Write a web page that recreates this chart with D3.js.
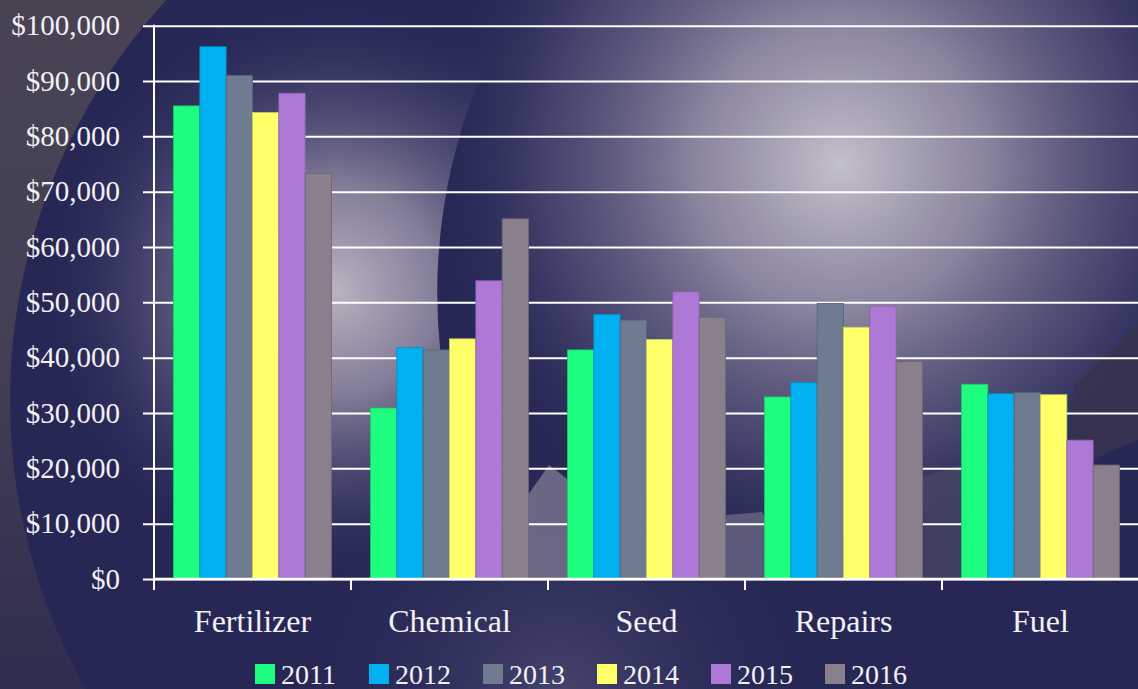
<!DOCTYPE html>
<html>
<head>
<meta charset="utf-8">
<script src="https://cdn.jsdelivr.net/npm/d3@7"></script>
<style>
  html, body { margin: 0; padding: 0; background: #262755; }
  svg { display: block; }
</style>
</head>
<body>
<div id="chart"></div>
<script>
// data
const categories = ['Fertilizer', 'Chemical', 'Seed', 'Repairs', 'Fuel'];
const years = ['2011', '2012', '2013', '2014', '2015', '2016'];
const colors = ['#1efd80', '#00b0f0', '#6e7b91', '#ffff6a', '#ad78d6', '#8a7f8c'];
const values2011 = [85500, 30900, 41400, 32900, 35200];
const values2012 = [96200, 41800, 47800, 35500, 33500];
const values2013 = [91000, 41400, 46800, 49800, 33700];
const values2014 = [84300, 43400, 43300, 45500, 33300];
const values2015 = [87800, 53900, 51900, 49300, 25100];
const values2016 = [73300, 65100, 47300, 39300, 20600];
const yTicks = [0, 10000, 20000, 30000, 40000, 50000, 60000, 70000, 80000, 90000, 100000];

const series = [values2011, values2012, values2013, values2014, values2015, values2016];

const W = 1138, H = 689;
const margin = { top: 25.7, right: 0, bottom: 110, left: 154 };
const plotBottom = 579;

const svg = d3.select('#chart').append('svg')
    .attr('width', W).attr('height', H);

// ---- background ----
const defs = svg.append('defs');

const rg = (id, cx, cy, r, stops) => {
    const g = defs.append('radialGradient').attr('id', id)
        .attr('gradientUnits', 'userSpaceOnUse')
        .attr('cx', cx).attr('cy', cy).attr('r', r);
    stops.forEach(s => g.append('stop').attr('offset', s[0]).attr('stop-color', s[1]).attr('stop-opacity', s[2]));
};

rg('glowRight', 840, 165, 420, [[0, '#c4bfcc', 1], [0.35, '#9c94aa', 0.85], [0.7, '#5c5a80', 0.55], [1, '#262755', 0]]);
rg('glowLeft', 335, 290, 300, [[0, '#bbb3c1', 1], [0.35, '#948ca4', 0.85], [0.7, '#55547c', 0.45], [1, '#262755', 0]]);
rg('glowBottom', 560, 700, 280, [[0, '#4c4a72', 0.85], [1, '#262755', 0]]);

const corner = defs.append('linearGradient').attr('id', 'corner')
    .attr('x1', 0).attr('y1', 0).attr('x2', 0).attr('y2', 1);
corner.append('stop').attr('offset', 0).attr('stop-color', '#4b4553');
corner.append('stop').attr('offset', 0.45).attr('stop-color', '#443f55');
corner.append('stop').attr('offset', 0.75).attr('stop-color', '#2e2d4e');
corner.append('stop').attr('offset', 1).attr('stop-color', '#2b2b4d');

// the left glow stops at the edge of a large dark disc
defs.append('clipPath').attr('id', 'leftClip')
    .append('path')
    .attr('d', 'M0,0 H520 A560,560 0 0 0 505,560 L480,689 H0 Z');
defs.append('clipPath').attr('id', 'cornerClip')
    .append('rect').attr('width', 420).attr('height', H);

svg.append('rect').attr('width', W).attr('height', H).attr('fill', '#262755');
svg.append('rect').attr('width', W).attr('height', H).attr('fill', 'url(#glowRight)');
svg.append('rect').attr('width', W).attr('height', H).attr('fill', 'url(#glowLeft)')
    .attr('clip-path', 'url(#leftClip)');
svg.append('rect').attr('width', W).attr('height', H).attr('fill', 'url(#glowBottom)');

// outside of the big circle, top left and bottom left corners
svg.append('path')
    .attr('fill', 'url(#corner)')
    .attr('fill-rule', 'evenodd')
    .attr('d', 'M0,0 H1138 V689 H0 Z M600,-190 A590,590 0 1 0 600.1,-190 Z')
    .attr('clip-path', 'url(#cornerClip)');

// dark shape on the right edge
svg.append('path')
    .attr('fill', '#383350').attr('opacity', 0.85)
    .attr('d', 'M1138,325 L1075,385 L1068,470 L1138,440 Z');

// grey hills in the middle
svg.append('path')
    .attr('fill', '#7a7790').attr('opacity', 0.8)
    .attr('d', 'M505,579 L528,495 L549,465 L575,485 L590,579 Z');
svg.append('path')
    .attr('fill', '#6e6a86').attr('opacity', 0.75)
    .attr('d', 'M720,579 L726,515 L762,512 L780,540 L790,579 Z');
svg.append('path')
    .attr('fill', '#4a4868').attr('opacity', 0.7)
    .attr('d', 'M915,579 L922,477 L961,465 L970,579 Z');

// ---- scales ----
const x0 = d3.scaleBand().domain(categories).range([margin.left, W + 1]).paddingInner(0).paddingOuter(0);
const x1 = d3.scaleBand().domain(years).range([0, x0.bandwidth()]).paddingInner(0).paddingOuter(0.74);
const y = d3.scaleLinear().domain([0, 100000]).range([plotBottom, margin.top]);

const textColor = '#f3f1f4';
const font = '"Liberation Serif", "Times New Roman", serif';

// ---- y axis + grid ----
const yAxisG = svg.append('g')
    .attr('transform', `translate(${margin.left},0)`)
    .call(d3.axisLeft(y).tickValues(yTicks).tickFormat(d3.format('$,')).tickSizeOuter(0).tickSizeInner(11).tickPadding(23));
yAxisG.select('.domain').remove();
yAxisG.selectAll('.tick line')
    .attr('x1', -11).attr('x2', W - margin.left)
    .attr('stroke', '#ffffff').attr('stroke-width', 2);
yAxisG.selectAll('.tick text')
    .attr('fill', textColor)
    .style('font-family', font)
    .style('font-size', '29px');

// ---- bars ----
const barsG = svg.append('g');
categories.forEach((cat, ci) => {
    years.forEach((yr, si) => {
        const v = series[si][ci];
        barsG.append('rect')
            .attr('x', x0(cat) + x1(yr))
            .attr('y', y(v))
            .attr('width', x1.bandwidth())
            .attr('height', y(0) - y(v))
            .attr('fill', colors[si])
            .attr('stroke', d3.color(colors[si]).darker(0.6))
            .attr('stroke-width', 0.8);
    });
});

// ---- x axis ----
const xAxisG = svg.append('g').attr('transform', `translate(0,${plotBottom})`);
xAxisG.append('line')
    .attr('x1', margin.left).attr('x2', W)
    .attr('stroke', '#ffffff').attr('stroke-width', 2.5);
categories.forEach(cat => {
    xAxisG.append('line')
        .attr('x1', x0(cat)).attr('x2', x0(cat))
        .attr('y1', 0).attr('y2', 11)
        .attr('stroke', '#ffffff').attr('stroke-width', 2);
    xAxisG.append('text')
        .attr('x', x0(cat) + x0.bandwidth() / 2)
        .attr('y', 53)
        .attr('text-anchor', 'middle')
        .attr('fill', textColor)
        .style('font-family', font)
        .style('font-size', '32px')
        .text(cat);
});
// vertical axis line
svg.append('line')
    .attr('x1', margin.left).attr('x2', margin.left)
    .attr('y1', margin.top - 1).attr('y2', plotBottom + 11)
    .attr('stroke', '#ffffff').attr('stroke-width', 2);

// ---- legend ----
const legend = svg.append('g').attr('transform', 'translate(255, 664)');
years.forEach((yr, i) => {
    const row = legend.append('g').attr('transform', `translate(${i * 114}, 0)`);
    row.append('rect').attr('width', 20).attr('height', 20).attr('fill', colors[i]);
    row.append('text')
        .attr('x', 26).attr('y', 19.5)
        .attr('fill', textColor)
        .style('font-family', font)
        .style('font-size', '28px')
        .text(yr);
});
</script>
</body>
</html>
